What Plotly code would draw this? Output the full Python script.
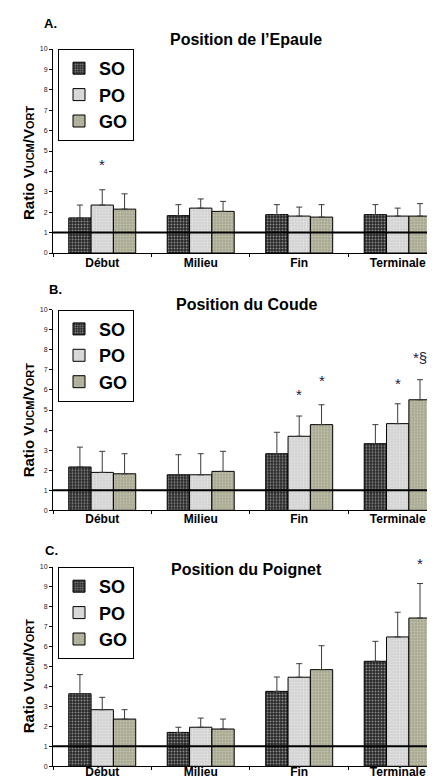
import plotly.graph_objects as go

categories = ["Début", "Milieu", "Fin", "Terminale"]
groups = ["SO", "PO", "GO"]

# Panel A - Position de l'Epaule
a_means = {"SO": [1.72, 1.83, 1.88, 1.88], "PO": [2.35, 2.20, 1.81, 1.81], "GO": [2.15, 2.04, 1.76, 1.81]}
a_sd = {"SO": [0.63, 0.54, 0.49, 0.49], "PO": [0.75, 0.45, 0.44, 0.39], "GO": [0.75, 0.49, 0.61, 0.61]}
# Panel B - Position du Coude
b_means = {"SO": [2.16, 1.77, 2.82, 3.32], "PO": [1.89, 1.77, 3.69, 4.32], "GO": [1.82, 1.94, 4.27, 5.51]}
b_sd = {"SO": [0.99, 1.00, 1.07, 0.95], "PO": [1.05, 1.05, 1.01, 0.99], "GO": [1.00, 1.00, 0.99, 1.00]}
# Panel C - Position du Poignet
c_means = {"SO": [3.64, 1.70, 3.76, 5.27], "PO": [2.84, 1.96, 4.47, 6.49], "GO": [2.37, 1.87, 4.85, 7.44]}
c_sd = {"SO": [0.96, 0.26, 0.72, 1.00], "PO": [0.62, 0.46, 0.68, 1.24], "GO": [0.47, 0.50, 1.20, 1.73]}

titles = ["Position de l\u2019Epaule", "Position du Coude", "Position du Poignet"]
letters = ["A.", "B.", "C."]
# significance marks: (panel, category index, group, text, y)
marks = [
    (0, 0, "PO", "*", 3.8),
    (1, 2, "PO", "*", 5.25),
    (1, 2, "GO", "*", 5.95),
    (1, 3, "PO", "*", 5.8),
    (1, 3, "GO", "*§", 7.1),
    (2, 3, "GO", "*", 9.65),
]

styles = {
    "SO": dict(color="#262626", fg="#f0f0f0"),
    "PO": dict(color="#d2d2d2", fg="#f2f2f2"),
    "GO": dict(color="#a9a993", fg="#dcdcc8"),
}

FONT = "Liberation Sans, Arial, sans-serif"
W, H = 435, 778
ML = 45
PW = W - ML
# plot area pixel positions (top, bottom) for each panel
panel_px = [(41, 245), (301.7, 502.3), (559, 758.3)]
title_y = [32, 297, 561]
letter_y = [15, 282, 542]
letter_x = [42, 47, 43]
label_standoff = [-1, -3, -6]


def px_x(v):
    return (v - ML) / PW


def px_y(v):
    return 1 - v / H


fig = go.Figure()
datasets = [(a_means, a_sd), (b_means, b_sd), (c_means, c_sd)]
bargap = 0.32
bw = (1 - bargap) / 3

for p, (means, sds) in enumerate(datasets):
    sfx = "" if p == 0 else str(p + 1)
    leg = "legend" + sfx
    for g in groups:
        st = styles[g]
        fig.add_trace(go.Bar(
            x=categories, y=means[g], name=g,
            xaxis="x" + sfx, yaxis="y" + sfx, legend=leg,
            marker=dict(color=st["color"], line=dict(color="black", width=1),
                        pattern=dict(shape=".", fgcolor=st["fg"], size=3, solidity=0.35)),
            error_y=dict(type="data", symmetric=False, array=sds[g],
                         arrayminus=[0] * len(categories), color="#3a3a3a",
                         thickness=1, width=3),
        ))
    top, bot = panel_px[p]
    dom = [px_y(bot), px_y(top)]
    fig.layout["xaxis" + sfx] = dict(
        domain=[0, 1], anchor="y" + sfx, type="category", automargin=False,
        categoryorder="array", categoryarray=categories,
        range=[-0.5, 3.46], showline=True, linecolor="black", linewidth=1,
        ticks="outside", tickson="boundaries", ticklen=3, tickcolor="black",
        ticklabelstandoff=label_standoff[p],
        showgrid=False, tickfont=dict(family=FONT, size=12, color="black", weight="bold"),
    )
    fig.layout["yaxis" + sfx] = dict(
        domain=dom, anchor="x" + sfx, range=[0, 10], dtick=1, automargin=False,
        showline=True, linecolor="black", linewidth=1,
        ticks="outside", ticklen=3, tickcolor="black", showgrid=False, zeroline=False,
        tickfont=dict(family=FONT, size=7, color="#222"),
    )
    fig.layout[leg] = dict(
        x=px_x(50), y=px_y(top), xanchor="left", yanchor="top",
        bordercolor="black", borderwidth=1, bgcolor="white",
        font=dict(family=FONT, size=18, color="black", weight="bold"),
        tracegroupgap=0, itemwidth=30,
    )
    # reference line at ratio = 1
    fig.add_shape(type="line", xref="x" + sfx + " domain", yref="y" + sfx,
                  x0=0, x1=1, y0=1, y1=1, line=dict(color="black", width=2))
    # titles
    fig.add_annotation(x=px_x(238), y=px_y(title_y[p]), xref="paper", yref="paper",
                       text=titles[p], showarrow=False, xanchor="center", yanchor="middle",
                       font=dict(family=FONT, size=16, color="black", weight="bold"))
    fig.add_annotation(x=px_x(letter_x[p]), y=px_y(letter_y[p]), xref="paper", yref="paper",
                       text=letters[p], showarrow=False, xanchor="center", yanchor="middle",
                       font=dict(family=FONT, size=13, color="black", weight="bold"))
    # y-axis title
    fig.add_annotation(x=px_x(20), y=px_y(bot - 90), xref="paper", yref="paper",
                       text="Ratio V<span style='font-size:11px'>UCM</span>/V<span style='font-size:11px'>ORT</span>",
                       textangle=-90, showarrow=False, xanchor="center", yanchor="middle",
                       font=dict(family=FONT, size=15, color="black", weight="bold"))

for (p, ci, g, txt, yv) in marks:
    sfx = "" if p == 0 else str(p + 1)
    gi = groups.index(g)
    fig.add_annotation(x=ci + (gi - 1) * bw, y=yv, xref="x" + sfx, yref="y" + sfx,
                       text=txt, showarrow=False, xanchor="center", yanchor="bottom",
                       font=dict(family=FONT, size=15, color="#1a1a40"))

fig.update_layout(
    width=W, height=H, barmode="group", bargap=bargap, bargroupgap=0,
    margin=dict(l=ML, r=0, t=0, b=0),
    plot_bgcolor="white", paper_bgcolor="white",
    showlegend=True,
)
fig.write_html("out.html")
